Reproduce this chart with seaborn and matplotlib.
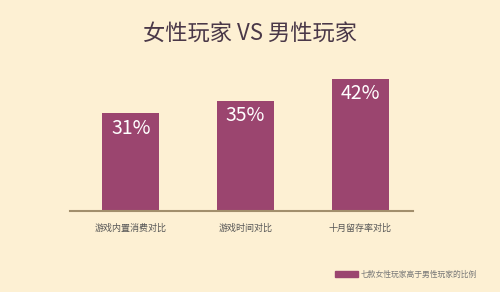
import matplotlib
matplotlib.use("Agg")
import matplotlib.pyplot as plt
import seaborn as sns
import pandas as pd
from matplotlib.patches import Patch

categories = ["游戏内置消费对比", "游戏时间对比", "十月留存率对比"]
values = [31, 35, 42]
value_labels = ["31%", "35%", "42%"]
title = "女性玩家 VS 男性玩家"
legend_label = "七款女性玩家高于男性玩家的比例"

bg = "#FDF0D3"
bar_color = "#9B456F"

sns.set_theme(style="white")
plt.rcParams['font.family'] = ['Noto Sans CJK SC', 'DejaVu Sans']

df = pd.DataFrame({"cat": categories, "val": values})

fig = plt.figure(figsize=(5.0, 2.92), dpi=100, facecolor=bg)
ax = fig.add_axes([0.14, 0.277, 0.686, 0.486])
ax.set_facecolor(bg)
sns.barplot(data=df, x="cat", y="val", color=bar_color, width=0.5, ax=ax,
            saturation=1, linewidth=0, edgecolor=bar_color)
ax.set_xlim(-0.53, 2.46)
ax.set_ylim(0, 45)
for i, (v, lab) in enumerate(zip(values, value_labels)):
    ax.text(i, v - 1.4, lab, ha="center", va="top", color="white", fontsize=14)
for s in ["top", "right", "left"]:
    ax.spines[s].set_visible(False)
ax.spines["bottom"].set_color("#A28F6C")
ax.spines["bottom"].set_linewidth(1.5)
ax.set_yticks([])
ax.set_xlabel("")
ax.set_ylabel("")
ax.tick_params(axis="x", length=0, pad=9, labelsize=6.5, labelcolor="#555555")

fig.text(0.5, 0.885, title, ha="center", va="center", fontsize=16, color="#4A3848")

leg = fig.legend(handles=[Patch(color=bar_color, label=legend_label)],
                 loc="center left", bbox_to_anchor=(0.655, 0.06), frameon=False,
                 fontsize=5.6, handlelength=3.0, handleheight=0.9, handletextpad=0.4)
for t in leg.get_texts():
    t.set_color("#777777")

fig.savefig("out.png", dpi=100, facecolor=bg)
